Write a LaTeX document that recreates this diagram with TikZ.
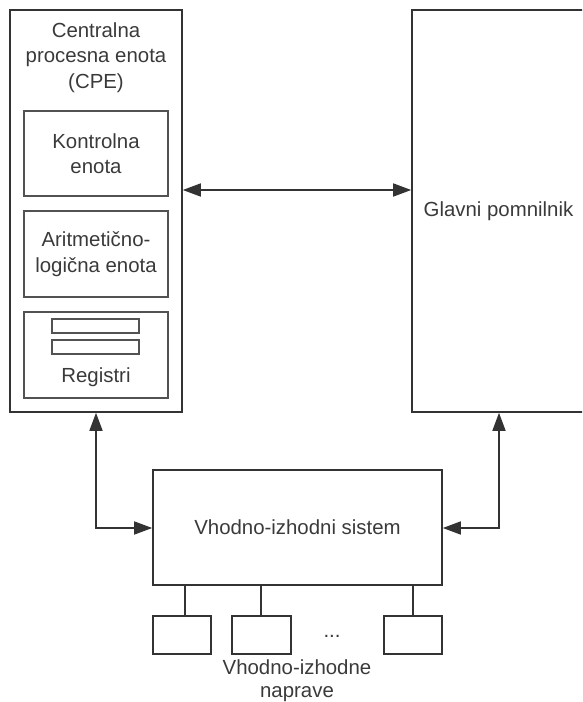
\documentclass[tikz,border=0pt]{standalone}
\usepackage{fontspec}
\setmainfont{Liberation Sans}
\usetikzlibrary{arrows.meta}
\definecolor{ink}{HTML}{333333}
\definecolor{txt}{HTML}{3A3A3A}
\tikzset{
  box/.style={draw=ink, line width=1.6pt, rectangle, inner sep=0pt, text=txt, align=center},
  inbox/.style={draw=ink!85, line width=1.6pt, rectangle, inner sep=0pt, text=txt, align=center},
  lbl/.style={text=txt, align=center, inner sep=0pt},
  conn/.style={draw=ink, line width=1.6pt},
  arr/.style={conn, {Triangle[length=18pt,width=13pt]}-{Triangle[length=18pt,width=13pt]}},
}
\begin{document}
\begin{tikzpicture}[x=1pt,y=-1pt, font=\fontsize{20.4}{25.5}\selectfont]
\useasboundingbox (0,0) rectangle (582,702);
\begin{scope}
\clip (0,0) rectangle (582,702);
% CPU
\node[box, minimum width=172pt, minimum height=402pt] (cpu) at (96,211) {};
\node[lbl] (cpel) at (96,57.5) {Centralna\\procesna enota\\(CPE)};
\node[inbox, minimum width=144pt, minimum height=85pt] (ctrl) at (96,153.5) {Kontrolna\\enota};
\node[inbox, minimum width=144pt, minimum height=86pt] (alu) at (96,254) {Aritmetično-\\logična enota};
\node[inbox, minimum width=144pt, minimum height=86pt] (reg) at (96,355) {};
\node[inbox, line width=1.4pt, minimum width=87pt, minimum height=14pt] (r1) at (95.5,326) {};
\node[inbox, line width=1.4pt, minimum width=87pt, minimum height=14pt] (r2) at (95.5,347) {};
\node[lbl] (regl) at (96,377) {Registri};
% Memory
\node[box, minimum width=173pt, minimum height=402pt] (mem) at (498.5,211) {Glavni pomnilnik};
% I/O system
\node[box, minimum width=289pt, minimum height=115pt] (io) at (297.5,527.5) {Vhodno-izhodni sistem};
% devices
\node[box, minimum width=58pt, minimum height=38pt] (d1) at (182,635) {};
\node[box, minimum width=59pt, minimum height=38pt] (d2) at (261.5,635) {};
\node[box, minimum width=58pt, minimum height=38pt] (d3) at (413,635) {};
\node[lbl, anchor=base] (dots) at (332,637) {...};
\node[lbl, font=\fontsize{20.4}{23}\selectfont] (devl) at (297,681) {Vhodno-izhodne\\naprave};
% connectors
\coordinate (h) at (0,190);
\draw[arr] (cpu.east |- h) -- (mem.west |- h);
\coordinate (lx) at (96,528);
\coordinate (rx) at (499,528);
\draw[arr] (cpu.south -| lx) -- (lx) -- (io.west |- lx);
\draw[arr] (mem.south -| rx) -- (rx) -- (io.east |- rx);
\coordinate (c1) at (185,616);
\coordinate (c2) at (261,616);
\coordinate (c3) at (413,616);
\draw[conn] (d1.north -| c1) -- (io.south -| c1);
\draw[conn] (d2.north -| c2) -- (io.south -| c2);
\draw[conn] (d3.north -| c3) -- (io.south -| c3);
\end{scope}
\end{tikzpicture}
\end{document}
